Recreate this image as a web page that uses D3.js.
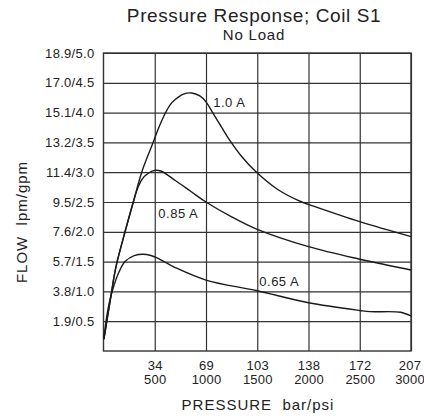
<!DOCTYPE html>
<html>
<head>
<meta charset="utf-8">
<script src="https://cdn.jsdelivr.net/npm/d3@7"></script>
<style>
  html, body { margin: 0; padding: 0; background: #fff; }
  svg { display: block; }
  text { font-family: "Liberation Sans", Arial, sans-serif; fill: #222; }
</style>
</head>
<body>
<svg id="chart" width="424" height="418"></svg>
<script>
// ---- data (pressure in psi, flow in gpm) ----
const psiTicks = [500, 1000, 1500, 2000, 2500, 3000];
const barLabels = ["34", "69", "103", "138", "172", "207"];
const psiLabels = ["500", "1000", "1500", "2000", "2500", "3000"];
const gpmTicks = [0.5, 1.0, 1.5, 2.0, 2.5, 3.0, 3.5, 4.0, 4.5, 5.0];
const flowLabels = ["1.9/0.5", "3.8/1.0", "5.7/1.5", "7.6/2.0", "9.5/2.5",
                    "11.4/3.0", "13.2/3.5", "15.1/4.0", "17.0/4.5", "18.9/5.0"];

const seriesNames = ["1.0 A", "0.85 A", "0.65 A"];
const psi10 = [4, 37, 80, 100, 129, 210, 291, 373, 480, 540, 600, 650, 700, 780, 860, 940, 1000, 1065, 1150, 1234, 1350, 1480, 1700, 1934, 2000, 2500, 3000];
const gpm10 = [0.2, 0.55, 1.0, 1.22, 1.47, 2.0, 2.5, 3.0, 3.48, 3.75, 3.98, 4.13, 4.22, 4.31, 4.33, 4.28, 4.18, 4.0, 3.76, 3.53, 3.26, 3.02, 2.71, 2.5, 2.46, 2.17, 1.92];
const psi085 = [4, 37, 80, 100, 129, 210, 291, 340, 400, 500, 560, 700, 850, 1000, 1250, 1500, 2000, 2500, 3000];
const gpm085 = [0.2, 0.55, 1.0, 1.22, 1.47, 2.0, 2.5, 2.76, 2.93, 3.03, 3.02, 2.86, 2.68, 2.5, 2.25, 2.04, 1.75, 1.54, 1.36];
const psi065 = [4, 25, 55, 93, 150, 210, 300, 420, 500, 700, 1000, 1500, 2000, 2500, 2600, 2900, 3000];
const gpm065 = [0.2, 0.5, 0.8, 1.05, 1.32, 1.5, 1.6, 1.62, 1.58, 1.40, 1.19, 1.01, 0.81, 0.68, 0.66, 0.65, 0.59];

// ---- layout ----
const svg = d3.select("#chart");
const L = 103.5, R = 411, T = 53, B = 351;
const x = d3.scaleLinear().domain([0, 3000]).range([L, R]);
const y = d3.scaleLinear().domain([0, 5]).range([B, T]);
const FONT = "'Liberation Sans', Arial, sans-serif";

// grid
const grid = svg.append("g");
grid.append("g")
  .attr("transform", `translate(0,${B})`)
  .call(d3.axisBottom(x).tickValues(psiTicks).tickSize(-(B - T)).tickFormat(""))
  .call(g => g.select(".domain").remove());
grid.append("g")
  .attr("transform", `translate(${L},0)`)
  .call(d3.axisLeft(y).tickValues(gpmTicks).tickSize(-(R - L)).tickFormat(""))
  .call(g => g.select(".domain").remove());
grid.selectAll("line").attr("stroke", "#333").attr("stroke-width", 1.2);
grid.append("rect").attr("x", L).attr("y", T).attr("width", R - L).attr("height", B - T)
  .attr("fill", "none").attr("stroke", "#333").attr("stroke-width", 1.4);

// y labels
const yAx = svg.append("g")
  .attr("transform", `translate(${L},0)`)
  .call(d3.axisLeft(y).tickValues(gpmTicks).tickSize(0).tickPadding(9)
    .tickFormat((d, i) => flowLabels[i]));
yAx.select(".domain").remove();
yAx.selectAll("text").style("font-size", "13px").style("font-family", FONT)
  .style("letter-spacing", "0.3px").attr("fill", "#222");

// x labels (two rows)
const xAx1 = svg.append("g")
  .attr("transform", `translate(0,${B})`)
  .call(d3.axisBottom(x).tickValues(psiTicks).tickSize(0).tickPadding(10)
    .tickFormat((d, i) => barLabels[i]));
const xAx2 = svg.append("g")
  .attr("transform", `translate(0,${B})`)
  .call(d3.axisBottom(x).tickValues(psiTicks).tickSize(0).tickPadding(24)
    .tickFormat((d, i) => psiLabels[i]));
[xAx1, xAx2].forEach(a => {
  a.select(".domain").remove();
  a.selectAll("text").style("font-size", "13px").style("font-family", FONT)
    .style("letter-spacing", "0.2px").attr("fill", "#222")
    .attr("dx", (d, i) => i === psiTicks.length - 1 ? -1.5 : 0);
});

// curves
const line = d3.line().x(d => x(d[0])).y(d => y(d[1])).curve(d3.curveCatmullRom.alpha(0.5));
const series = [
  d3.zip(psi10, gpm10),
  d3.zip(psi085, gpm085),
  d3.zip(psi065, gpm065)
];
svg.append("g").selectAll("path").data(series).join("path")
  .attr("d", line).attr("fill", "none").attr("stroke", "#1a1a1a").attr("stroke-width", 1.4);

// curve labels
const labelPos = [[1070, 4.16], [535, 2.29], [1520, 1.14]];
svg.append("g").selectAll("text").data(seriesNames).join("text")
  .attr("x", (d, i) => x(labelPos[i][0])).attr("y", (d, i) => y(labelPos[i][1]))
  .attr("dominant-baseline", "middle")
  .style("font-size", "13px").style("letter-spacing", "0.5px").text(d => d);

// titles
svg.append("text").attr("x", 254).attr("y", 22).attr("text-anchor", "middle")
  .style("font-size", "19px").style("letter-spacing", "0.6px").text("Pressure Response; Coil S1");
svg.append("text").attr("x", 254).attr("y", 40).attr("text-anchor", "middle")
  .style("font-size", "15px").style("letter-spacing", "0.8px").text("No Load");
svg.append("text").attr("x", 258).attr("y", 410).attr("text-anchor", "middle")
  .style("font-size", "15px").style("letter-spacing", "1px").style("white-space", "pre").text("PRESSURE  bar/psi");
svg.append("text").attr("transform", "translate(27,222) rotate(-90)").attr("text-anchor", "middle")
  .style("font-size", "15px").style("letter-spacing", "1px").style("white-space", "pre").text("FLOW  lpm/gpm");
</script>
</body>
</html>
